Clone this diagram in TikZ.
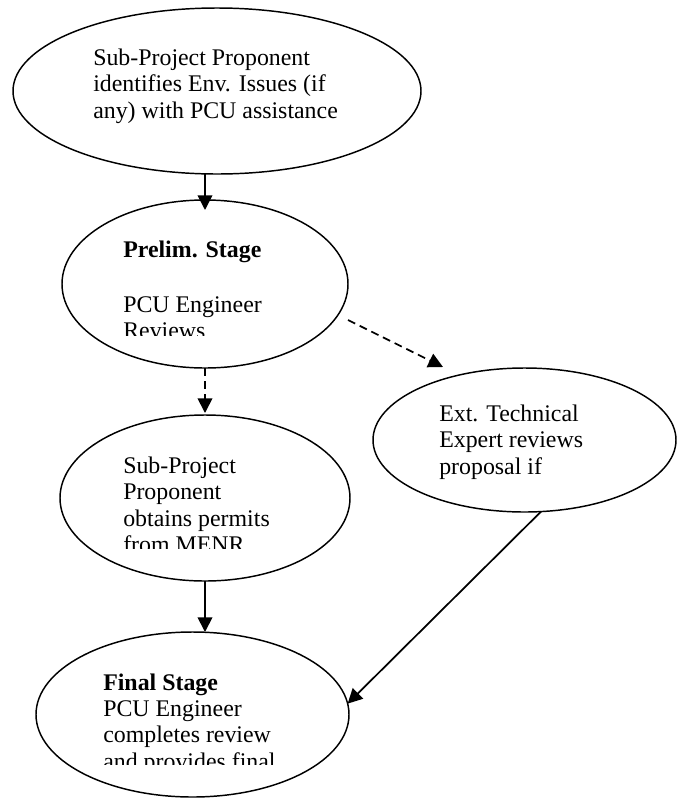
\documentclass[tikz,border=0pt]{standalone}
\usepackage{fontspec}
\setmainfont{Liberation Serif}
\usetikzlibrary{arrows.meta,shapes.geometric}
\begin{document}
\begin{tikzpicture}[x=0.75pt,y=-0.75pt,
  oval/.style={draw,ellipse,line width=1.1pt,inner sep=0pt,outer sep=0pt},
  txt/.style={anchor=base west,inner sep=0pt,align=left,
    font=\fontsize{17.9}{19.75}\selectfont},
  arr/.style={line width=1.3pt,-{Triangle[length=11pt,width=11pt]}},
  darr/.style={arr,dash pattern=on 6pt off 3.75pt}]
\useasboundingbox (0,0) rectangle (676,800);
% ellipses
\node[oval,minimum width=306pt,minimum height=124.5pt] (top) at (217,91) {};
\node[oval,minimum width=214.5pt,minimum height=126pt] (prelim) at (205,284) {};
\node[oval,minimum width=217.5pt,minimum height=124.5pt] (permits) at (205,498) {};
\node[oval,minimum width=227.25pt,minimum height=108pt] (ext) at (524.5,440) {};
\node[oval,minimum width=234.75pt,minimum height=123.75pt] (final) at (192.5,714.5) {};
% texts (anchored at the baseline of their last line)
\node[txt] (toptext) at (93,118.3) {Sub-Project Proponent\\identifies Env. Issues (if\\any) with PCU assistance};
\begin{scope}
  \clip (55,205) rectangle (360,335);
  \node[txt] (prelimtext) at (123,338.5) {\textbf{Prelim. Stage}\\[21.5pt]PCU Engineer\\Reviews};
\end{scope}
\begin{scope}
  \clip (55,420) rectangle (360,548);
  \node[txt] (permitstext) at (123,552.5) {Sub-Project\\Proponent\\obtains permits\\from MENR};
\end{scope}
\node[txt] (exttext) at (439,474) {Ext. Technical\\Expert reviews\\proposal if};
\begin{scope}
  \clip (30,640) rectangle (360,764);
  \node[txt] (finaltext) at (103,769) {\textbf{Final Stage}\\PCU Engineer\\completes review\\and provides final};
\end{scope}
% connectors
\draw[arr] (top.south -| prelim.north) -- ([shift={(0,10)}]prelim.north);
\draw[darr] (prelim.south) -- ([shift={(0,-2)}]permits.north);
\draw[darr] ([shift={(143,36)}]prelim.center) -- ([shift={(-81.5,-73)}]ext.center);
\draw[arr] (permits.south) -- (permits.south |- final.north);
\draw[arr] (ext.-77.1) -- (final.4.6);
\end{tikzpicture}
\end{document}
